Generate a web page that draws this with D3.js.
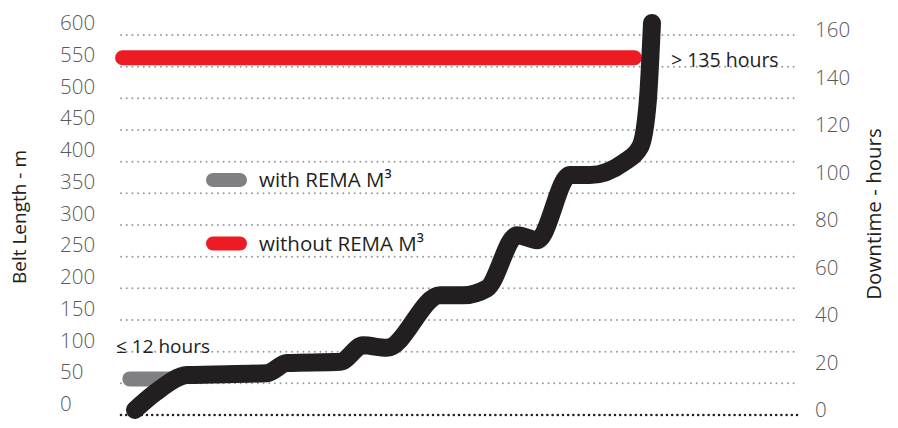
<!DOCTYPE html>
<html>
<head>
<meta charset="utf-8">
<script src="https://cdn.jsdelivr.net/npm/d3@7"></script>
<style>
  html, body { margin: 0; padding: 0; background: #fff; }
  svg { display: block; }
</style>
</head>
<body>
<svg id="chart" width="898" height="428"></svg>
<script>
// ---- data ----
const beltTicks = [0, 50, 100, 150, 200, 250, 300, 350, 400, 450, 500, 550, 600];
const hourTicks = [0, 20, 40, 60, 80, 100, 120, 140, 160];
// black curve: progress (0-100) vs belt length (m)
const curveX = [0, 3.9, 10.1, 25.5, 29.4, 39.7, 44.1, 48.7, 59, 63.4, 68.1, 73.9, 77.8, 84.1, 88, 94.4, 97.7, 99.2, 100];
const curveY = [8, 35, 63, 66, 82, 84, 110, 106, 189, 189, 200, 284, 276, 379, 379, 398, 423, 497, 619];
// comparison bars
const barNames = ["with REMA M³", "without REMA M³"];
const barLabels = ["≤ 12 hours", "> 135 hours"];
const barLevel = [57, 564];
const barStart = [-1, -2.4];
const barEnd = [8, 96.6];
const barColors = ["#808083", "#ed1c24"];

// ---- scales ----
const svg = d3.select("#chart");
const x = d3.scaleLinear().domain([0, 100]).range([135, 652]);
const y = d3.scaleLinear().domain([0, 600]).range([415, 35]);
const yLabel = d3.scaleLinear().domain([0, 600]).range([404, 23]);
const yRight = d3.scaleLinear().domain([0, 160]).range([410, 30]);

const tickFont = "'Open Sans', sans-serif";

// gridlines
svg.append("g").selectAll("line").data(beltTicks).join("line")
  .attr("x1", 121).attr("x2", 798)
  .attr("y1", d => y(d)).attr("y2", d => y(d))
  .attr("stroke", d => d === 0 ? "#231f20" : "#9a9a9a")
  .attr("stroke-width", d => d === 0 ? 2.6 : 2)
  .attr("stroke-linecap", "round")
  .attr("stroke-dasharray", d => d === 0 ? "0 5.2" : "0 5.7");

// left axis labels
const leftAxis = d3.axisLeft(yLabel).tickValues(beltTicks).tickSize(0).tickPadding(0);
const gl = svg.append("g").attr("transform", "translate(60,0)").call(leftAxis);
gl.select(".domain").remove();
gl.selectAll("text").attr("text-anchor", "start").attr("x", 0)
  .attr("font-family", tickFont).attr("font-weight", 300).attr("font-size", 20.5)
  .attr("fill", "#58595b");

// right axis labels
const rightAxis = d3.axisRight(yRight).tickValues(hourTicks).tickSize(0).tickPadding(0);
const gr = svg.append("g").attr("transform", "translate(815,0)").call(rightAxis);
gr.select(".domain").remove();
gr.selectAll("text").attr("x", 0)
  .attr("font-family", tickFont).attr("font-weight", 300).attr("font-size", 20.5)
  .attr("fill", "#58595b");

// axis titles
svg.append("text").attr("transform", "translate(26,217) rotate(-90)")
  .attr("text-anchor", "middle").attr("font-family", tickFont).attr("font-size", 19)
  .attr("fill", "#231f20").text("Belt Length - m");
svg.append("text").attr("transform", "translate(881,214) rotate(-90)")
  .attr("text-anchor", "middle").attr("font-family", tickFont).attr("font-size", 20.5)
  .attr("fill", "#231f20").text("Downtime - hours");

// bars (red first, gray later)
svg.append("g").selectAll("line").data(d3.range(barNames.length).reverse()).join("line")
  .attr("x1", i => x(barStart[i])).attr("x2", i => x(barEnd[i]))
  .attr("y1", i => y(barLevel[i])).attr("y2", i => y(barLevel[i]))
  .attr("stroke", i => barColors[i]).attr("stroke-width", 15)
  .attr("stroke-linecap", "round");

// black curve
const pts = curveX.map((v, i) => [v, curveY[i]]);
svg.append("path").datum(pts)
  .attr("d", d3.line().x(d => x(d[0])).y(d => y(d[1])).curve(d3.curveMonotoneX))
  .attr("fill", "none").attr("stroke", "#231f20").attr("stroke-width", 18)
  .attr("stroke-linecap", "round").attr("stroke-linejoin", "round");

// bar value labels
svg.append("text").attr("x", 116).attr("y", y(100) + 1)
  .attr("font-family", tickFont).attr("font-size", 19).attr("fill", "#231f20")
  .text(barLabels[0]);
svg.append("text").attr("x", 671).attr("y", y(550))
  .attr("font-family", tickFont).attr("font-size", 19.5).attr("fill", "#231f20")
  .text(barLabels[1]);

// legend
const legY = [180, 243.5];
const lg = svg.append("g").selectAll("g").data(d3.range(barNames.length)).join("g")
  .attr("transform", i => `translate(206,${legY[i]})`);
lg.append("line").attr("x1", 7).attr("x2", 34).attr("stroke", i => barColors[i])
  .attr("stroke-width", 14).attr("stroke-linecap", "round");
lg.append("text").attr("x", 53).attr("y", 7)
  .attr("font-family", tickFont).attr("font-size", 20.5).attr("fill", "#231f20")
  .text(i => barNames[i]);
</script>
</body>
</html>
